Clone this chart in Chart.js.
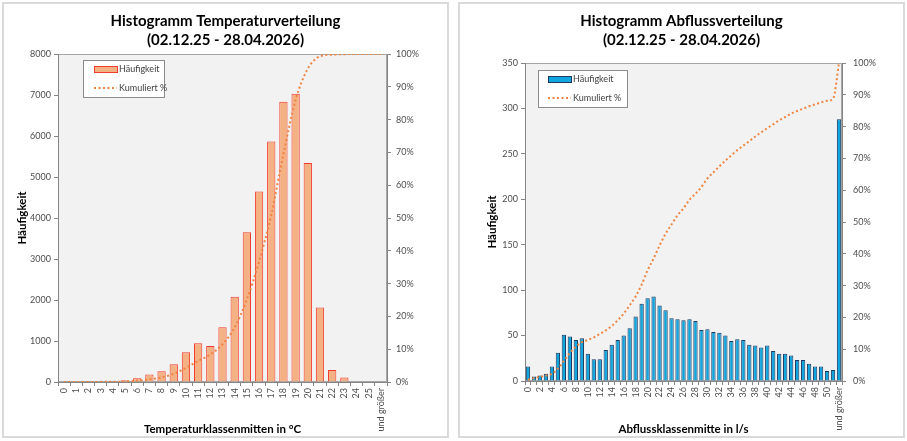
<!DOCTYPE html>
<html>
<head>
<meta charset="utf-8">
<script src="https://cdn.jsdelivr.net/npm/chart.js@4.4.1/dist/chart.umd.min.js"></script>
<style>
  body { margin: 0; background: #fff; }
  .panel { position: absolute; top: 2px; width: 447px; height: 436px; border: 2px solid #d9d9d9; box-sizing: border-box; }
  #p1 { left: 2px; }
  #p2 { left: 458px; }
  canvas { position: absolute; left: 0; top: 0; }
</style>
</head>
<body>
<div class="panel" id="p1"><canvas id="tempChart" width="443" height="432"></canvas></div>
<div class="panel" id="p2"><canvas id="abflussChart" width="443" height="432"></canvas></div>
<script>
// Temperatur
const tempKlassen = ["0", "1", "2", "3", "4", "5", "6", "7", "8", "9", "10", "11", "12", "13", "14", "15", "16", "17", "18", "19", "20", "21", "22", "23", "24", "25", "und größer"];
const tempHaeufigkeit = [0, 0, 0, 15, 10, 45, 90, 185, 260, 430, 725, 945, 880, 1335, 2080, 3655, 4645, 5865, 6835, 7030, 5340, 1815, 290, 110, 10, 10, 0];
const tempKumuliert = [0, 0, 0, 0.04, 0.06, 0.15, 0.4, 0.8, 1.4, 2.5, 4.3, 6.4, 8.4, 11.5, 16.6, 25.2, 36.7, 51, 69.5, 86, 95.5, 99.3, 99.8, 99.95, 100, 100, 100];

// Abfluss
const abflussKlassen = ["0", "1", "2", "3", "4", "5", "6", "7", "8", "9", "10", "11", "12", "13", "14", "15", "16", "17", "18", "19", "20", "21", "22", "23", "24", "25", "26", "27", "28", "29", "30", "31", "32", "33", "34", "35", "36", "37", "38", "39", "40", "41", "42", "43", "44", "45", "46", "47", "48", "49", "50", "51", "und größer"];
const abflussHaeufigkeit = [16, 5, 6, 8, 16, 31, 51, 49, 45, 47, 30, 24, 24, 34, 40, 45, 50, 58, 71, 85, 91, 93, 83, 78, 69, 68, 67, 68, 66, 56, 57, 54, 53, 50, 44, 46, 45, 40, 39, 37, 39, 33, 30, 30, 28, 23, 23, 19, 16, 16, 11, 12, 288];
const abflussKumuliert = [0.4, 0.9, 1.3, 1.7, 2.3, 3.9, 6.3, 8.8, 10.8, 12.2, 12.9, 13.7, 14.8, 15.9, 17.3, 19.1, 21.2, 23.8, 26.6, 30.3, 34.8, 38.5, 42.6, 46.3, 49.2, 52.1, 54.3, 57.0, 58.9, 61.0, 63.7, 65.6, 67.5, 69.3, 71.0, 72.6, 74.0, 75.4, 76.9, 78.2, 79.5, 80.7, 82.0, 83.0, 84.1, 84.9, 85.6, 86.4, 87.0, 87.6, 88.1, 88.7, 100];

const FONT = "Lato, 'Liberation Sans', sans-serif";
const AXIS_GREY = "#868686";
const TICK_GREY = "#4d4d4d";

// grey plot area with frame
const plotBg = {
  id: "plotBg",
  beforeDraw(chart) {
    const { ctx, chartArea: a } = chart;
    ctx.save();
    ctx.fillStyle = "#f2f2f2";
    ctx.fillRect(a.left, a.top, a.right - a.left, a.bottom - a.top);
    ctx.strokeStyle = "#a6a6a6";
    ctx.lineWidth = 1;
    ctx.strokeRect(a.left + 0.5, a.top + 0.5, a.right - a.left - 1, a.bottom - a.top - 1);
    ctx.restore();
  },
};

// legend box inside the plot, like Excel
const boxLegend = {
  id: "boxLegend",
  afterDraw(chart, args, opts) {
    const { ctx, chartArea: a } = chart;
    const bar = chart.data.datasets[0];
    const line = chart.data.datasets[1];
    const x = a.left + opts.dx;
    const y = a.top + opts.dy;
    ctx.save();
    ctx.fillStyle = "#fff";
    ctx.fillRect(x, y, opts.w, opts.h);
    ctx.strokeStyle = "#8c8c8c";
    ctx.lineWidth = 1;
    ctx.strokeRect(x + 0.5, y + 0.5, opts.w, opts.h);

    ctx.fillStyle = bar.backgroundColor;
    ctx.fillRect(x + opts.sx, y + 6.5, 23, 6);
    ctx.strokeStyle = bar.borderColor;
    ctx.strokeRect(x + opts.sx + 0.5, y + 6.5, 23, 6);

    ctx.strokeStyle = line.borderColor;
    ctx.lineWidth = 2;
    ctx.setLineDash(line.borderDash);
    ctx.beginPath();
    ctx.moveTo(x + opts.sx, y + 28);
    ctx.lineTo(x + opts.sx + 23, y + 28);
    ctx.stroke();
    ctx.setLineDash([]);

    ctx.fillStyle = "#404040";
    ctx.font = "9px " + FONT;
    ctx.textBaseline = "middle";
    ctx.fillText(bar.label, x + opts.sx + 25, y + 9.5);
    ctx.fillText(line.label, x + opts.sx + 25, y + 28);
    ctx.restore();
  },
};

const makeChart = (canvasId, cfg) => {
  const canvasElement = document.getElementById(canvasId);
  let config = {
    type: "bar",
    data: {
      labels: cfg.labels,
      datasets: [
        {
          label: "Häufigkeit",
          data: cfg.counts,
          backgroundColor: cfg.barColor,
          borderColor: cfg.barBorder,
          borderWidth: 1,
          barPercentage: cfg.barPct,
          categoryPercentage: 1,
          yAxisID: "y",
          order: 1,
        },
        {
          type: "line",
          label: "Kumuliert %",
          data: cfg.cumulative,
          borderColor: "#f0843f",
          borderWidth: 2,
          borderDash: [2, 2.5],
          pointRadius: 0,
          tension: 0.3,
          cubicInterpolationMode: "monotone",
          fill: false,
          yAxisID: "y1",
          order: 0,
        },
      ],
    },
    options: {
      responsive: false,
      animation: false,
      layout: { padding: 0 },
      plugins: {
        legend: { display: false },
        tooltip: { enabled: false },
        title: {
          display: true,
          text: cfg.title,
          color: "#000",
          font: { family: FONT, size: 15, weight: "bold", lineHeight: 1.3 },
          padding: { top: 7, bottom: cfg.titleGap },
        },
        boxLegend: cfg.legend,
      },
      scales: {
        x: {
          grid: { offset: true, drawOnChartArea: false, tickLength: 4, color: AXIS_GREY },
          border: { color: AXIS_GREY },
          ticks: {
            color: TICK_GREY,
            font: { family: FONT, size: 9 },
            minRotation: 90,
            maxRotation: 90,
            autoSkip: false,
            padding: 2,
            callback: function (val, i) {
              return i % cfg.every === 0 ? this.getLabelForValue(val) : "";
            },
          },
          title: {
            display: true,
            text: cfg.xTitle,
            color: "#000",
            font: { family: FONT, size: 11.5, weight: "bold" },
            padding: { top: 0, bottom: 0 },
          },
          afterFit: (scale) => { scale.height = cfg.xHeight; },
        },
        y: {
          position: "left",
          min: 0,
          max: cfg.yMax,
          ticks: {
            stepSize: cfg.yStep,
            color: TICK_GREY,
            font: { family: FONT, size: 9 },
            padding: 3,
            callback: (v) => String(v),
          },
          grid: { drawOnChartArea: false, tickLength: 4, color: AXIS_GREY },
          border: { color: AXIS_GREY },
          title: {
            display: true,
            text: "Häufigkeit",
            color: "#000",
            font: { family: FONT, size: 11.5, weight: "bold" },
            padding: { top: cfg.yTitlePad, bottom: 0 },
          },
          afterFit: (scale) => { scale.width = cfg.yWidth; },
        },
        y1: {
          position: "right",
          min: 0,
          max: 100,
          ticks: {
            stepSize: 10,
            color: TICK_GREY,
            font: { family: FONT, size: 9 },
            padding: cfg.pctPad,
            callback: (v) => v + "%",
          },
          grid: { drawOnChartArea: false, tickLength: 4, color: AXIS_GREY },
          border: { color: AXIS_GREY },
          afterFit: (scale) => { scale.width = cfg.y1Width; },
        },
      },
    },
    plugins: [plotBg, boxLegend],
  };
  return new Chart(canvasElement, config);
};

let tempChart = makeChart("tempChart", {
  labels: tempKlassen,
  counts: tempHaeufigkeit,
  cumulative: tempKumuliert,
  title: ["Histogramm Temperaturverteilung", "(02.12.25 - 28.04.2026)"],
  titleGap: 4,
  xTitle: "Temperaturklassenmitten in °C",
  barColor: "#f4b183",
  barBorder: "#f23a2e",
  barPct: 0.68,
  every: 1,
  yMax: 8000,
  yStep: 1000,
  yWidth: 54,
  y1Width: 60,
  xHeight: 54,
  yTitlePad: 11,
  pctPad: 5,
  legend: { dx: 25, dy: 6, w: 81, h: 37, sx: 11 },
});

let abflussChart = makeChart("abflussChart", {
  labels: abflussKlassen,
  counts: abflussHaeufigkeit,
  cumulative: abflussKumuliert,
  title: ["Histogramm Abflussverteilung", "(02.12.25 - 28.04.2026)"],
  titleGap: 13,
  xTitle: "Abflussklassenmitte in l/s",
  barColor: "#0fa6df",
  barBorder: "#1f3a60",
  barPct: 0.72,
  every: 2,
  yMax: 350,
  yStep: 50,
  yWidth: 65,
  y1Width: 61,
  xHeight: 55,
  yTitlePad: 25,
  pctPad: 7,
  legend: { dx: 13, dy: 7, w: 89, h: 37, sx: 10 },
});
</script>
</body>
</html>
